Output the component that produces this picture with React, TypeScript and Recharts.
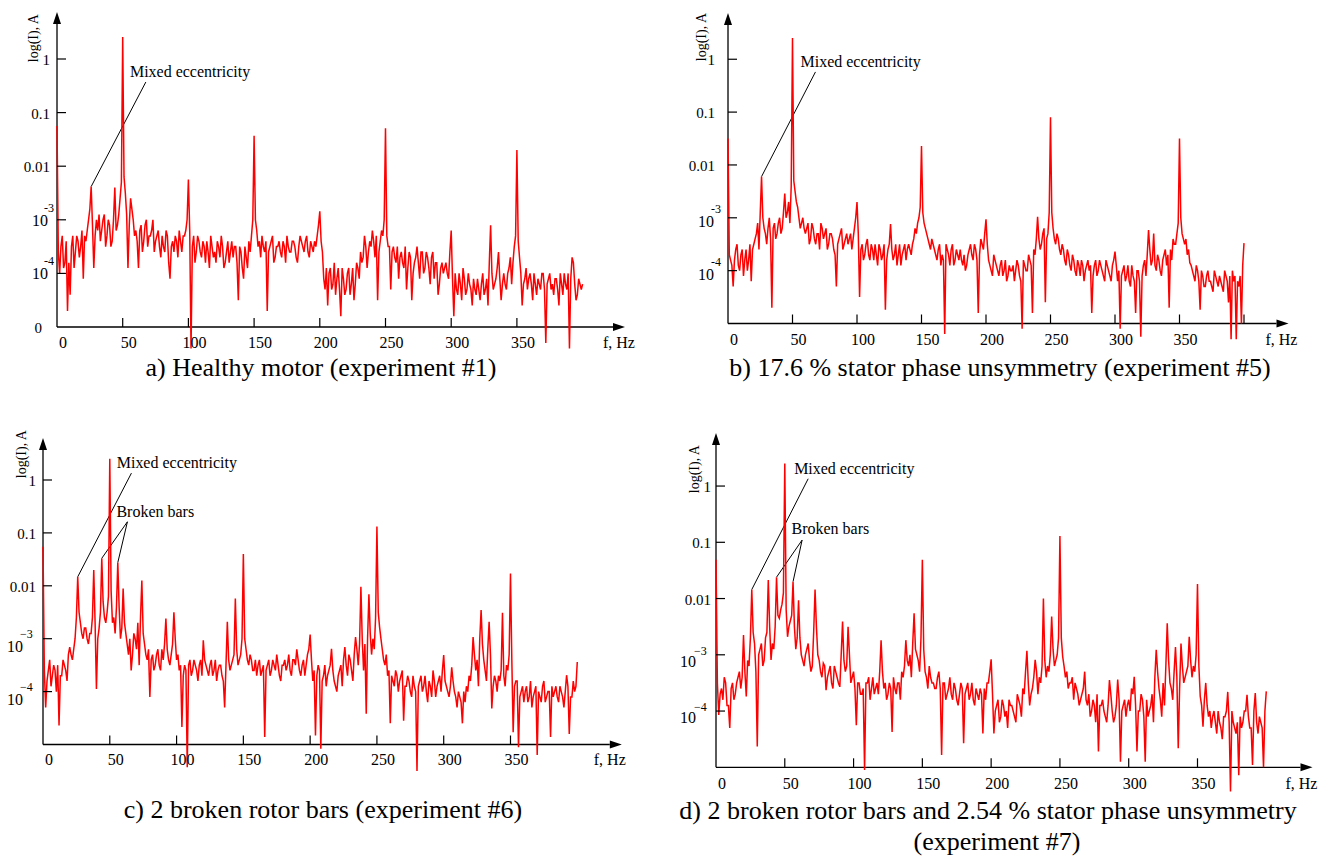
import {
    LineChart,
    Line,
    XAxis,
    YAxis,
    ReferenceLine,
    ReferenceDot,
} from "recharts";

const FONT = "'Liberation Serif', 'Times New Roman', serif";
const RED = "#ff0000";

// current spectra, log10(I) read every 1 Hz from 0 to 400 Hz
const FREQ_STEP = 1;

const healthy = [
    -1.25, -3.6, -4.0, -3.5, -3.3, -3.9, -3.8, -3.4, -4.7, -3.8, -4.4, -3.5, -3.3, -3.9, -3.6, -3.3, -3.4, -3.7, -3.5, -3.2,
    -4.1, -3.3, -3.4, -3.2, -3.0, -2.8, -2.38, -3.1, -3.9, -3.3, -3.0, -3.2, -2.9, -3.4, -3.2, -3.0, -2.9, -3.5, -3.3, -3.0,
    -3.1, -3.5, -3.4, -3.0, -2.4, -3.2, -3.1, -2.9, -2.6, -2.3, 0.41, -2.2, -2.5, -2.9, -3.9, -3.1, -2.6, -2.8, -3.0, -3.3,
    -3.2, -3.4, -3.9, -3.2, -3.1, -3.6, -3.4, -3.1, -3.0, -3.5, -3.3, -3.3, -3.2, -3.0, -3.6, -3.4, -3.3, -3.2, -3.5, -3.7,
    -3.3, -3.5, -3.6, -3.2, -3.3, -3.8, -4.1, -3.5, -3.4, -3.6, -3.3, -3.4, -3.7, -3.2, -3.4, -3.6, -3.3, -3.3, -3.2, -3.0,
    -2.25, -3.2, -5.4, -3.5, -3.3, -3.8, -3.6, -3.3, -3.4, -3.6, -3.7, -3.4, -3.5, -3.8, -3.4, -3.6, -3.9, -3.3, -3.5, -3.7,
    -3.6, -3.8, -3.4, -3.5, -3.7, -3.3, -3.5, -3.9, -3.8, -3.6, -3.4, -3.8, -3.6, -3.4, -3.7, -3.5, -3.5, -3.8, -4.5, -3.5,
    -3.6, -3.9, -4.1, -3.5, -3.7, -3.9, -3.4, -3.6, -3.3, -3.0, -1.43, -3.0, -3.2, -3.5, -3.4, -3.7, -3.3, -3.5, -3.6, -3.4,
    -4.7, -3.6, -3.5, -3.4, -3.3, -3.8, -3.7, -3.5, -3.5, -3.4, -3.6, -3.7, -3.4, -3.5, -3.8, -3.3, -3.5, -3.6, -3.6, -3.4,
    -3.4, -3.5, -3.7, -3.8, -3.5, -3.3, -3.4, -3.5, -3.6, -3.4, -3.3, -3.6, -3.7, -3.4, -3.5, -3.6, -3.4, -3.5, -3.3, -3.1,
    -2.84, -3.4, -3.6, -4.1, -4.3, -3.9, -4.6, -4.0, -3.9, -4.3, -4.2, -3.8, -4.4, -4.1, -3.9, -4.3, -4.8, -3.9, -4.1, -4.4,
    -4.3, -4.0, -3.9, -4.4, -4.2, -3.9, -4.5, -4.2, -3.8, -3.9, -4.1, -3.6, -3.8, -3.7, -3.3, -3.5, -3.9, -3.6, -3.4, -3.5,
    -3.2, -3.4, -3.7, -3.3, -4.5, -3.6, -3.4, -3.2, -3.3, -3.0, -1.29, -3.3, -3.5, -3.5, -4.3, -3.6, -3.5, -3.7, -3.8, -3.5,
    -4.1, -3.7, -3.6, -3.8, -3.9, -3.5, -4.3, -3.9, -3.6, -3.7, -4.5, -4.0, -3.8, -3.7, -3.5, -3.8, -4.1, -3.6, -3.6, -4.0,
    -3.9, -3.6, -3.7, -3.9, -4.2, -3.7, -3.6, -4.1, -3.8, -3.8, -4.4, -4.2, -3.9, -3.8, -4.0, -3.9, -3.8, -4.0, -4.1, -3.6,
    -3.2, -4.1, -4.8, -4.0, -4.3, -4.4, -4.0, -4.2, -4.5, -3.9, -4.1, -4.4, -4.3, -4.0, -4.2, -4.3, -4.6, -4.1, -4.3, -4.4,
    -4.1, -4.3, -4.5, -4.2, -4.0, -4.4, -4.3, -4.1, -4.6, -3.8, -3.1, -4.0, -4.3, -4.2, -4.1, -3.9, -3.6, -4.1, -4.5, -4.2,
    -4.0, -4.2, -4.3, -4.0, -3.9, -3.7, -4.2, -3.8, -3.5, -3.3, -1.7, -3.4, -3.7, -4.0, -4.6, -4.2, -4.1, -3.9, -4.3, -4.1,
    -4.0, -4.2, -4.5, -4.0, -4.2, -4.4, -4.1, -4.2, -4.3, -4.0, -4.0, -4.3, -5.3, -4.2, -4.1, -4.0, -4.3, -4.2, -4.4, -4.1,
    -4.1, -4.3, -4.6, -4.0, -4.2, -4.4, -4.0, -4.2, -4.3, -4.0, -5.4, -4.1, -3.7, -3.8, -4.2, -4.5, -4.4, -4.1, -4.2, -4.3,
    -4.2,
];

const statorUnsym = [
    -1.5, -3.7, -3.8, -3.9, -4.3, -3.8, -3.6, -3.5, -3.9, -4.0, -3.7, -3.6, -4.1, -3.8, -3.6, -4.0, -3.8, -3.5, -4.2, -3.6,
    -3.5, -3.4, -3.3, -3.1, -3.6, -2.9, -2.22, -3.0, -3.2, -3.3, -3.5, -3.2, -3.0, -3.4, -4.7, -3.2, -3.1, -3.4, -3.3, -3.1,
    -3.0, -3.3, -3.2, -2.9, -2.54, -3.0, -2.9, -2.7, -3.1, -2.4, 0.4, -2.3, -2.5, -2.7, -2.8, -3.0, -3.2, -3.1, -3.0, -3.2,
    -3.3, -3.2, -3.1, -3.5, -3.4, -3.1, -3.2, -3.4, -3.5, -3.3, -3.3, -3.6, -3.1, -3.2, -3.4, -3.3, -3.2, -3.6, -3.5, -3.3,
    -3.3, -3.4, -3.6, -3.7, -4.3, -3.5, -3.4, -3.3, -3.2, -3.6, -3.5, -3.4, -3.3, -3.5, -3.4, -3.3, -3.6, -3.4, -3.2, -3.0,
    -2.7, -3.3, -4.5, -3.6, -3.5, -3.8, -3.7, -3.5, -3.4, -3.7, -3.8, -3.5, -3.6, -3.8, -3.5, -3.7, -3.9, -3.5, -3.6, -3.8,
    -3.7, -3.5, -4.74, -3.8, -3.6, -3.5, -3.12, -3.6, -3.8, -3.7, -3.5, -3.9, -3.7, -3.5, -3.9, -3.7, -3.6, -3.5, -3.8, -3.6,
    -3.5, -3.6, -3.7, -3.5, -3.4, -3.2, -3.3, -3.1, -3.0, -2.8, -1.64, -2.9, -3.1, -3.2, -3.3, -3.4, -3.5, -3.6, -3.4, -3.5,
    -3.6, -3.7, -3.8, -3.6, -3.5, -3.9, -3.7, -3.8, -5.2, -3.5, -3.6, -3.7, -3.9, -3.6, -3.5, -3.9, -3.8, -3.6, -3.7, -3.8,
    -3.6, -3.8, -3.9, -3.7, -4.0, -3.9, -3.7, -3.6, -3.5, -3.7, -3.8, -3.5, -3.6, -3.8, -4.8, -3.7, -3.4, -3.5, -3.6, -3.3,
    -3.03, -3.5, -3.8, -3.9, -4.0, -4.1, -3.7, -3.8, -3.9, -4.0, -4.1, -3.9, -3.8, -4.1, -4.0, -3.8, -4.2, -4.1, -3.9, -4.0,
    -4.0, -3.9, -4.2, -4.0, -3.8, -3.9, -4.1, -4.2, -5.1, -3.8, -3.9, -4.0, -4.0, -3.7, -3.8, -3.9, -4.8, -3.6, -3.7, -3.4,
    -2.98, -3.4, -3.6, -3.5, -3.3, -3.2, -4.6, -3.4, -3.3, -2.9, -1.1, -2.9, -3.2, -3.4, -3.5, -3.3, -3.4, -3.6, -3.7, -3.5,
    -3.6, -3.8, -3.9, -3.6, -3.7, -3.9, -4.0, -3.7, -3.8, -4.0, -4.1, -3.8, -3.9, -4.1, -3.8, -3.9, -4.2, -4.0, -3.9, -3.8,
    -4.0, -3.9, -4.8, -4.1, -3.9, -3.8, -4.1, -4.0, -3.8, -3.9, -4.0, -4.1, -4.2, -3.8, -3.9, -4.0, -4.1, -4.2, -3.9, -3.8,
    -3.64, -3.9, -4.2, -4.0, -5.1, -4.1, -4.0, -3.9, -4.2, -4.1, -3.9, -4.2, -4.3, -3.9, -4.1, -4.2, -4.8, -4.0, -4.0, -4.2,
    -5.25, -4.1, -3.9, -3.8, -4.1, -3.7, -3.23, -3.6, -3.9, -3.8, -3.3, -3.9, -4.0, -3.7, -3.8, -4.0, -4.1, -3.8, -3.7, -3.6,
    -3.9, -3.7, -4.7, -3.6, -3.8, -3.4, -3.5, -3.5, -3.3, -3.1, -1.5, -3.0, -3.3, -3.4, -3.5, -3.4, -3.7, -3.6, -3.85, -3.9,
    -4.0, -4.1, -4.2, -3.9, -4.0, -4.2, -4.74, -4.0, -4.1, -4.3, -4.3, -4.1, -4.0, -4.2, -4.2, -4.3, -4.4, -4.0, -4.1, -4.2,
    -4.3, -4.1, -4.2, -4.3, -4.4, -4.0, -4.1, -4.2, -4.6, -4.1, -5.3, -4.0, -4.2, -4.1, -5.3, -4.2, -4.3, -4.1, -5.0, -3.9,
    -3.48,
];

const brokenBars = [
    -1.26, -3.6, -4.3, -3.8, -3.6, -3.4, -3.9, -3.7, -3.5, -3.6, -4.0, -3.5, -4.64, -3.7, -3.7, -3.4, -3.5, -3.6, -3.8, -3.3,
    -3.16, -3.3, -3.4, -3.2, -3.0, -2.6, -1.83, -2.5, -2.7, -2.9, -3.0, -2.8, -2.8, -3.0, -3.1, -2.9, -2.9, -2.6, -1.7, -2.7,
    -3.95, -3.0, -2.8, -2.5, -1.48, -2.3, -2.6, -2.7, -2.5, -2.2, 0.4, -2.1, -2.7, -2.6, -2.9, -2.4, -1.56, -2.4, -3.0, -2.8,
    -2.05, -2.7, -2.9, -3.1, -3.3, -3.0, -3.6, -3.3, -2.9, -3.0, -3.2, -2.7, -3.5, -2.6, -1.9, -2.9, -3.1, -3.3, -3.4, -3.2,
    -4.1, -3.4, -3.3, -3.6, -3.5, -3.3, -3.2, -3.5, -3.6, -3.2, -3.4, -3.1, -2.62, -3.2, -3.4, -3.5, -3.3, -3.1, -2.5, -3.0,
    -3.4, -3.3, -3.6, -3.5, -4.67, -3.7, -3.5, -3.6, -5.43, -3.5, -3.4, -3.7, -3.6, -3.4, -3.5, -3.6, -3.8, -3.5, -3.4, -3.7,
    -3.03, -3.4, -3.5, -3.6, -3.7, -3.5, -3.4, -3.7, -3.6, -3.4, -3.8, -3.6, -3.5, -3.5, -3.7, -3.8, -4.3, -3.5, -2.68, -3.4,
    -3.6, -3.5, -3.4, -3.3, -2.24, -3.2, -3.5, -3.4, -3.3, -3.0, -1.4, -3.0, -3.2, -3.4, -3.5, -3.3, -3.4, -3.6, -3.6, -3.4,
    -3.7, -3.5, -3.4, -3.7, -3.6, -3.5, -4.86, -3.6, -3.5, -3.4, -3.7, -3.6, -3.4, -3.5, -3.6, -3.3, -3.5, -3.7, -3.8, -3.5,
    -3.5, -3.4, -3.6, -3.5, -3.3, -3.6, -3.7, -3.4, -3.4, -3.5, -3.2, -3.4, -3.6, -3.7, -3.5, -3.4, -3.7, -3.5, -3.3, -3.2,
    -2.92, -3.4, -3.8, -3.6, -4.83, -3.7, -3.5, -3.6, -5.08, -3.8, -3.7, -3.5, -3.9, -3.7, -3.6, -3.5, -3.19, -3.6, -3.8, -3.9,
    -4.0, -3.7, -3.6, -3.5, -3.9, -3.4, -3.16, -3.5, -3.7, -3.3, -3.4, -3.6, -3.8, -3.3, -2.97, -3.2, -3.5, -3.1, -2.02, -3.0,
    -3.6, -3.1, -4.42, -3.0, -2.16, -2.9, -3.3, -3.0, -3.2, -2.6, -0.88, -2.5, -2.78, -3.0, -3.2, -3.4, -3.5, -3.3, -3.7, -3.6,
    -4.6, -3.7, -3.8, -3.9, -3.6, -3.7, -4.0, -3.8, -3.7, -3.6, -4.55, -3.9, -3.9, -3.7, -3.8, -4.0, -4.1, -3.7, -3.9, -4.0,
    -5.5, -3.9, -3.8, -3.7, -4.0, -3.9, -3.7, -4.0, -4.2, -3.8, -3.9, -4.1, -3.6, -3.8, -4.1, -3.9, -3.8, -3.7, -4.0, -3.6,
    -3.31, -3.8, -3.9, -4.0, -4.1, -3.9, -3.54, -3.8, -4.0, -4.1, -4.3, -4.0, -4.1, -4.2, -4.6, -4.0, -4.2, -3.9, -4.0, -3.7,
    -3.8, -3.5, -2.97, -3.3, -3.6, -3.4, -3.9, -3.0, -2.46, -3.1, -3.4, -3.6, -3.8, -3.2, -2.68, -3.3, -4.32, -3.9, -3.7, -3.8,
    -4.0, -3.7, -3.8, -3.6, -2.51, -3.7, -3.9, -3.5, -3.6, -3.3, -1.77, -3.4, -4.77, -3.9, -3.8, -3.8, -5.05, -4.1, -4.0, -3.9,
    -4.2, -4.0, -3.9, -4.2, -4.1, -3.8, -4.3, -4.1, -4.0, -3.9, -5.2, -4.0, -4.1, -4.2, -3.9, -3.8, -4.2, -4.1, -4.0, -4.0,
    -4.86, -3.9, -4.1, -4.0, -3.9, -4.1, -4.2, -3.9, -4.0, -4.1, -4.3, -4.0, -3.69, -3.9, -4.8, -4.1, -4.1, -3.8, -4.0, -3.9,
    -3.44,
];

const brokenBarsUnsym = [
    -1.31, -3.5, -4.07, -3.7, -3.6, -3.8, -3.4, -3.5, -3.9, -3.9, -4.3, -3.6, -3.5, -3.8, -3.7, -3.5, -3.4, -3.3, -3.6, -3.4,
    -2.65, -3.3, -3.74, -3.1, -3.2, -2.7, -1.84, -2.6, -2.8, -3.3, -4.63, -3.0, -2.9, -2.8, -3.2, -3.1, -2.7, -2.6, -1.67, -2.5,
    -3.09, -2.8, -2.9, -2.5, -1.62, -2.3, -2.35, -2.2, -2.1, -1.9, 0.4, -2.2, -2.68, -2.5, -2.4, -2.3, -1.7, -2.5, -2.9, -2.7,
    -2.03, -2.7, -3.0, -3.1, -3.2, -3.0, -2.9, -2.8, -3.1, -3.3, -3.2, -2.6, -1.84, -2.5, -3.0, -3.1, -3.3, -3.4, -3.15, -3.2,
    -3.63, -3.4, -3.3, -3.2, -3.5, -3.6, -3.2, -3.3, -3.4, -3.5, -3.57, -3.0, -2.41, -3.1, -3.3, -3.2, -2.5, -3.0, -3.5, -3.4,
    -3.3, -3.6, -4.25, -3.5, -3.5, -3.7, -3.7, -3.6, -5.05, -3.5, -3.5, -3.4, -3.8, -3.6, -3.4, -3.7, -3.6, -3.5, -3.7, -3.3,
    -2.74, -3.3, -3.6, -3.5, -3.8, -3.7, -3.5, -3.6, -4.37, -3.4, -3.6, -3.7, -3.5, -3.5, -3.8, -3.3, -3.4, -3.2, -2.74, -3.1,
    -3.2, -3.0, -3.4, -2.8, -2.26, -2.9, -3.0, -3.1, -3.3, -2.7, -1.31, -2.9, -3.3, -3.4, -3.6, -3.2, -3.4, -3.5, -3.5, -3.6,
    -3.6, -3.4, -3.3, -3.6, -4.78, -3.5, -3.5, -3.8, -3.7, -3.6, -3.4, -3.7, -3.8, -3.5, -3.6, -3.8, -3.9, -3.7, -3.5, -3.6,
    -4.57, -3.7, -3.6, -3.5, -3.8, -3.7, -3.5, -3.8, -3.9, -3.6, -3.7, -3.8, -3.6, -3.7, -4.4, -3.6, -3.8, -3.5, -3.5, -3.3,
    -3.08, -3.7, -4.4, -4.0, -3.9, -3.8, -4.2, -4.1, -3.8, -3.9, -4.1, -4.0, -4.3, -3.8, -3.9, -3.9, -4.0, -4.1, -4.2, -3.7,
    -3.8, -3.9, -4.1, -3.6, -3.7, -3.3, -2.93, -3.5, -3.9, -3.7, -3.6, -3.4, -3.09, -3.3, -3.7, -3.4, -3.5, -3.2, -2.0, -3.1,
    -3.4, -3.2, -3.3, -3.0, -2.32, -2.9, -3.2, -3.1, -3.0, -2.7, -0.89, -2.7, -3.03, -3.2, -3.4, -3.3, -3.6, -3.5, -3.5, -3.4,
    -3.8, -3.5, -3.6, -3.7, -3.9, -3.8, -3.7, -3.6, -3.3, -3.8, -3.9, -3.7, -4.1, -4.0, -3.8, -3.9, -4.2, -3.7, -4.72, -3.9,
    -3.9, -3.8, -4.0, -4.1, -4.2, -3.9, -3.45, -3.7, -4.0, -4.2, -4.1, -3.9, -3.44, -3.8, -4.9, -4.0, -3.9, -3.8, -4.1, -3.9,
    -3.8, -4.0, -3.6, -3.7, -3.39, -3.9, -4.72, -4.0, -4.0, -3.7, -3.8, -4.1, -4.9, -3.8, -4.1, -4.0, -3.9, -3.7, -4.2, -3.4,
    -2.91, -3.3, -3.6, -3.8, -4.1, -3.5, -3.9, -3.2, -2.44, -3.1, -3.5, -3.6, -3.8, -3.3, -2.86, -3.4, -4.66, -3.6, -2.8, -3.2,
    -3.5, -3.4, -3.3, -3.2, -2.68, -3.1, -3.4, -3.2, -3.3, -3.0, -1.74, -3.2, -3.74, -3.9, -4.28, -3.8, -3.5, -3.9, -4.1, -4.0,
    -4.3, -4.1, -4.0, -4.2, -4.4, -4.0, -4.2, -4.3, -4.5, -4.1, -4.1, -4.0, -3.66, -4.2, -5.43, -4.0, -4.2, -4.3, -4.4, -4.2,
    -5.14, -4.1, -4.3, -4.2, -4.0, -4.0, -3.71, -4.1, -4.3, -4.3, -4.96, -4.0, -3.68, -4.2, -4.4, -4.1, -4.2, -4.3, -5.0, -4.0,
    -3.65,
];

const X_TICKS = [0, 50, 100, 150, 200, 250, 300, 350];
const Y_TICKS = [-4, -3, -2, -1, 0];
const Y_LABELS: Record<number, string> = { 0: "1", [-1]: "0.1", [-2]: "0.01", [-5]: "0" };
const Y_POWERS: Record<number, string> = { [-3]: "3", [-4]: "4" };

const toRows = (values: number[]) =>
    values.map((v, i) => ({ f: i * FREQ_STEP, v }));

interface Note {
    text: string;
    at: [number, number];
    from: [number, number];
    to: [number, number][];
}

interface Panel {
    id: string;
    values: number[];
    x0: number;
    kx: number;
    ybase: number;
    ky: number;
    top: number;
    xEnd: number;
    xTicks: number[];
    yTicks: number[];
    labelEnd: number;
    expStart: number;
    tenDy: number;
    supDx: number;
    supDy: number;
    minus: string;
    titleDx: number;
    titleDy: number;
    fHzDx: number;
    xLabelDy: number;
    notes: Note[];
}

const PANELS: Panel[] = [
    {
        id: "a", values: healthy,
        x0: 57, kx: 1.314, ybase: 327, ky: 53.6, top: 12, xEnd: 625,
        xTicks: X_TICKS, yTicks: [-5, ...Y_TICKS],
        labelEnd: -7, expStart: -25, tenDy: 6, supDx: -4, supDy: -14, minus: "-",
        titleDx: -19, titleDy: 2, fHzDx: -22, xLabelDy: 21,
        notes: [
            { text: "Mixed eccentricity", at: [55.5, -0.34], from: [67.6, -0.43], to: [[26, -2.38]] },
        ],
    },
    {
        id: "b", values: statorUnsym,
        x0: 727.5, kx: 1.29, ybase: 323.5, ky: 52.85, top: 13, xEnd: 1288,
        xTicks: [...X_TICKS, 400], yTicks: Y_TICKS,
        labelEnd: -13, expStart: -30, tenDy: 9, supDx: -3, supDy: -14, minus: "-",
        titleDx: -22, titleDy: 0, fHzDx: -23, xLabelDy: 22,
        notes: [
            { text: "Mixed eccentricity", at: [56.2, -0.15], from: [67.8, -0.24], to: [[26, -2.22]] },
        ],
    },
    {
        id: "c", values: brokenBars,
        x0: 43.2, kx: 1.3357, ybase: 744.5, ky: 52.9, top: 438, xEnd: 622,
        xTicks: X_TICKS, yTicks: Y_TICKS,
        labelEnd: -7, expStart: -36, tenDy: 13, supDx: -3, supDy: -14, minus: "\u2212",
        titleDx: -17, titleDy: -8, fHzDx: -28, xLabelDy: 21,
        notes: [
            { text: "Mixed eccentricity", at: [55.2, 0.23], from: [66.2, 0.13], to: [[26, -1.83]] },
            { text: "Broken bars", at: [55, -0.695], from: [63.2, -0.79], to: [[44, -1.48], [56, -1.56]] },
        ],
    },
    {
        id: "d", values: brokenBarsUnsym,
        x0: 716.2, kx: 1.3757, ybase: 767.3, ky: 56.25, top: 433, xEnd: 1312.7,
        xTicks: X_TICKS, yTicks: Y_TICKS,
        labelEnd: -5, expStart: -36, tenDy: 12, supDx: -2, supDy: -12, minus: "\u2212",
        titleDx: -17, titleDy: 12, fHzDx: -27, xLabelDy: 22,
        notes: [
            { text: "Mixed eccentricity", at: [56.8, 0.22], from: [67, 0.13], to: [[26, -1.84]] },
            { text: "Broken bars", at: [54.9, -0.86], from: [62.6, -0.96], to: [[44, -1.62], [56, -1.7]] },
        ],
    },
];

const CAPTIONS = [
    { text: "a) Healthy motor (experiment #1)", x: 321, y: 376 },
    { text: "b) 17.6 % stator phase unsymmetry (experiment #5)", x: 1000, y: 376 },
    { text: "c) 2 broken rotor bars (experiment #6)", x: 323, y: 818 },
    { text: "d) 2 broken rotor bars and 2.54 % stator phase unsymmetry", x: 988, y: 819 },
    { text: "(experiment #7)", x: 997, y: 850 },
];

// axis line with a filled arrow head at the second point
const ArrowLine = (props: any) => {
    const { x1, y1, x2, y2 } = props;
    const len = Math.hypot(x2 - x1, y2 - y1) || 1;
    const ux = (x2 - x1) / len;
    const uy = (y2 - y1) / len;
    const bx = x2 - ux * 12;
    const by = y2 - uy * 12;
    return (
        <g>
            <line x1={x1} y1={y1} x2={bx} y2={by} stroke="#000" strokeWidth={1.3} />
            <polygon
                points={`${x2},${y2} ${bx - uy * 4},${by + ux * 4} ${bx + uy * 4},${by - ux * 4}`}
                fill="#000"
            />
        </g>
    );
};

const SpectrumPanel = ({ p }: { p: Panel }) => {
    const ML = 70, MT = 10, MB = 40, MR = 40;
    const below = 0.6 * p.ky;
    const plotH = p.ybase - p.top + below;
    const plotW = p.xEnd - p.x0;
    const yMin = -5 - below / p.ky;
    const yMax = -5 + (p.ybase - p.top) / p.ky;
    const xMax = plotW / p.kx;
    const W = ML + plotW + MR;
    const H = MT + plotH + 1 + MB;

    const renderXTick = (props: any) => {
        const { x, y, payload } = props;
        const v = payload.value;
        const yb = y - below;
        return (
            <g>
                {v !== 0 && (
                    <line x1={x} y1={yb} x2={x} y2={yb - 9} stroke="#000" strokeWidth={1.2} />
                )}
                {v <= 350 && (
                    <text x={x + 6} y={yb + p.xLabelDy} textAnchor="middle"
                        fontSize={16} fontFamily={FONT} fill="#000">
                        {v}
                    </text>
                )}
            </g>
        );
    };

    const renderYTick = (props: any) => {
        const { x, y, payload } = props;
        const v = payload.value;
        const pow = Y_POWERS[v];
        return (
            <g>
                {v !== -5 && (
                    <line x1={x} y1={y} x2={x + 9} y2={y} stroke="#000" strokeWidth={1.2} />
                )}
                {pow ? (
                    <text x={x + p.expStart} y={y + p.tenDy} fontSize={16} fontFamily={FONT} fill="#000">
                        10
                        <tspan dx={p.supDx} dy={p.supDy} fontSize={12}>
                            {p.minus + pow}
                        </tspan>
                    </text>
                ) : (
                    <text x={x + (v === -5 ? -15 : p.labelEnd)} y={y + 6} textAnchor="end"
                        fontSize={15} fontFamily={FONT} fill="#000">
                        {Y_LABELS[v]}
                    </text>
                )}
            </g>
        );
    };

    return (
        <div style={{ position: "absolute", left: p.x0 - ML, top: p.top - MT }}>
            <LineChart
                width={W}
                height={H}
                data={toRows(p.values)}
                margin={{ top: MT, right: MR, bottom: MB, left: ML - 1 }}
            >
                <XAxis
                    dataKey="f"
                    type="number"
                    domain={[0, xMax]}
                    ticks={p.xTicks}
                    interval={0}
                    height={1}
                    axisLine={false}
                    tickLine={false}
                    tickSize={0}
                    tickMargin={0}
                    tick={renderXTick}
                />
                <YAxis
                    type="number"
                    domain={[yMin, yMax]}
                    ticks={p.yTicks}
                    interval={0}
                    width={1}
                    axisLine={false}
                    tickLine={false}
                    tickSize={0}
                    tickMargin={0}
                    tick={renderYTick}
                />
                <ReferenceLine
                    segment={[{ x: 0, y: -5 }, { x: xMax, y: -5 }]}
                    ifOverflow="visible"
                    shape={ArrowLine}
                />
                <ReferenceLine
                    segment={[{ x: 0, y: -5 }, { x: 0, y: yMax }]}
                    ifOverflow="visible"
                    shape={ArrowLine}
                />
                {p.notes.map((n) =>
                    n.to.map((t, i) => (
                        <ReferenceLine
                            key={n.text + i}
                            segment={[{ x: n.from[0], y: n.from[1] }, { x: t[0], y: t[1] }]}
                            ifOverflow="visible"
                            stroke="#000"
                            strokeWidth={1}
                        />
                    ))
                )}
                {p.notes.map((n) => (
                    <ReferenceDot
                        key={n.text}
                        x={n.at[0]}
                        y={n.at[1]}
                        r={0}
                        fill="none"
                        stroke="none"
                        ifOverflow="visible"
                        label={(lp: any) => (
                            <text x={lp.viewBox.x} y={lp.viewBox.y} fontSize={16}
                                fontFamily={FONT} fill="#000">
                                {n.text}
                            </text>
                        )}
                    />
                ))}
                <ReferenceDot
                    x={0}
                    y={yMax}
                    r={0}
                    fill="none"
                    stroke="none"
                    ifOverflow="visible"
                    label={(lp: any) => {
                        const tx = lp.viewBox.x + p.titleDx;
                        const ty = lp.viewBox.y + p.titleDy;
                        return (
                            <text x={tx} y={ty} textAnchor="end" fontSize={14} fontFamily={FONT}
                                fill="#000" transform={`rotate(-90 ${tx} ${ty})`}>
                                log(I), A
                            </text>
                        );
                    }}
                />
                <ReferenceDot
                    x={xMax}
                    y={-5}
                    r={0}
                    fill="none"
                    stroke="none"
                    ifOverflow="visible"
                    label={(lp: any) => (
                        <text x={lp.viewBox.x + p.fHzDx} y={lp.viewBox.y + p.xLabelDy}
                            fontSize={16} fontFamily={FONT} fill="#000">
                            f, Hz
                        </text>
                    )}
                />
                <Line
                    dataKey="v"
                    type="linear"
                    stroke={RED}
                    strokeWidth={1.5}
                    dot={false}
                    activeDot={false}
                    isAnimationActive={false}
                />
            </LineChart>
        </div>
    );
};

const App = () => {
    return (
        <div
            style={{
                position: "relative",
                width: 1336,
                height: 859,
                background: "#fff",
                overflow: "hidden",
            }}
        >
            <style>{"body{margin:0}"}</style>
            {PANELS.map((p) => (
                <SpectrumPanel key={p.id} p={p} />
            ))}
            <svg
                width={1336}
                height={859}
                style={{ position: "absolute", left: 0, top: 0, pointerEvents: "none" }}
            >
                {CAPTIONS.map((c) => (
                    <text key={c.text} x={c.x} y={c.y} textAnchor="middle"
                        fontSize={26} fontFamily={FONT} fill="#000">
                        {c.text}
                    </text>
                ))}
            </svg>
        </div>
    );
};

export default App;
